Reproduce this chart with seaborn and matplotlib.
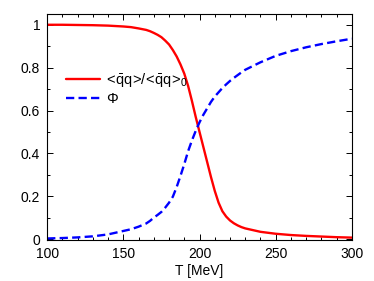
import numpy as np
import pandas as pd
import matplotlib
matplotlib.use('Agg')
import matplotlib.pyplot as plt
from matplotlib.ticker import MultipleLocator, FuncFormatter
import seaborn as sns

# values
T = [100, 110, 120, 130, 140, 150, 155, 160, 165, 167.5, 170, 172.5, 175, 177.5,
     180, 182.5, 185, 187.5, 190, 192.5, 195, 197.5, 200, 202.5, 205, 207.5, 210,
     212.5, 215, 217.5, 220, 222.5, 225, 227.5, 230, 240, 250, 260, 270, 280, 290, 300]
condensate = [1.0, 1.0, 0.999, 0.998, 0.996, 0.992, 0.989, 0.983, 0.976, 0.970,
              0.962, 0.953, 0.942, 0.926, 0.908, 0.882, 0.852, 0.815, 0.772, 0.715,
              0.645, 0.57, 0.50, 0.43, 0.36, 0.29, 0.225, 0.17, 0.13, 0.105,
              0.087, 0.074, 0.064, 0.056, 0.05, 0.034, 0.025, 0.019, 0.015, 0.012,
              0.009, 0.007]
polyakov = [0.003, 0.005, 0.008, 0.013, 0.022, 0.038, 0.046, 0.058, 0.073, 0.085,
            0.1, 0.113, 0.127, 0.147, 0.17, 0.198, 0.243, 0.295, 0.35, 0.41,
            0.46, 0.505, 0.545, 0.58, 0.61, 0.64, 0.665, 0.685, 0.705, 0.722,
            0.738, 0.752, 0.765, 0.778, 0.79, 0.825, 0.855, 0.877, 0.895, 0.91,
            0.923, 0.935]

# \! removes the relation spacing mathtext puts around < and >
lab_cond = r'$\mathrm{\!<\!\bar{q}q\!>\!/\!<\!\bar{q}q\!>\!_0}$'
lab_phi = r'$\Phi$'

df = pd.DataFrame({'T': T, 'cond': condensate, 'phi': polyakov})

sns.set_style('ticks')
plt.rcParams['font.family'] = ['Liberation Sans', 'DejaVu Sans']
plt.rcParams['mathtext.fontset'] = 'custom'
plt.rcParams['mathtext.rm'] = 'Liberation Sans'
plt.rcParams['mathtext.it'] = 'Liberation Sans:italic'
plt.rcParams['text.color'] = 'black'
plt.rcParams['xtick.color'] = 'black'
plt.rcParams['ytick.color'] = 'black'
plt.rcParams['axes.labelcolor'] = 'black'

fig = plt.figure(figsize=(3.74, 2.81), dpi=100)
ax = fig.add_axes([0.126, 0.146, 0.815, 0.804])

sns.lineplot(data=df, x='T', y='cond', ax=ax, color='#ff0000', lw=1.7, label=lab_cond)
sns.lineplot(data=df, x='T', y='phi', ax=ax, color='#0000ff', lw=1.7, label=lab_phi)
ax.lines[1].set_dashes([3.5, 1.8])

ax.set_xlim(100, 300)
ax.set_ylim(-0.004, 1.05)
ax.xaxis.set_major_locator(MultipleLocator(50))
ax.xaxis.set_minor_locator(MultipleLocator(10))
ax.yaxis.set_major_locator(MultipleLocator(0.2))
ax.yaxis.set_minor_locator(MultipleLocator(0.1))
ax.yaxis.set_major_formatter(FuncFormatter(lambda v, p: f'{v:g}'))
ax.tick_params(which='both', direction='in', top=True, right=True, labelsize=10,
               width=0.7)
ax.tick_params(which='major', length=4, pad=5)
ax.tick_params(which='minor', length=2.5)
for s in ax.spines.values():
    s.set_linewidth(0.8)
    s.set_color('black')

ax.set_xlabel('T [MeV]', fontsize=10, labelpad=2)
ax.set_ylabel('')

leg = ax.legend(loc='upper left', bbox_to_anchor=(0.02, 0.805), frameon=False,
                fontsize=10.5, handlelength=2.3, handletextpad=0.45, labelspacing=0.22)
for h in leg.get_lines():
    h.set_linewidth(1.7)
leg.get_lines()[1].set_dashes([3.5, 1.8])

fig.savefig('out.png', dpi=100)
